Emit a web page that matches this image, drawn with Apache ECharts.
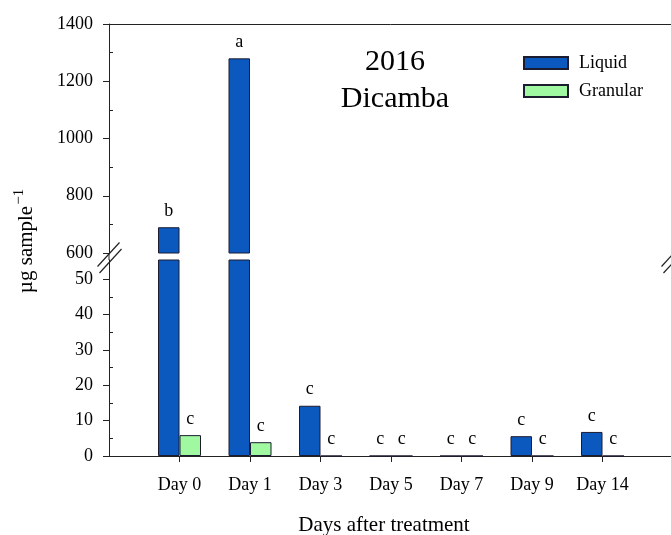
<!DOCTYPE html>
<html>
<head>
<meta charset="utf-8">
<script src="https://cdn.jsdelivr.net/npm/echarts@6/dist/echarts.min.js"></script>
<style>
  html, body { margin: 0; padding: 0; background: #fff; }
  #chart { width: 671px; height: 535px; }
</style>
</head>
<body>
<div id="chart"></div>
<script>
// Dicamba residue per sample, 2016, by days after treatment
const days = ['Day 0', 'Day 1', 'Day 3', 'Day 5', 'Day 7', 'Day 9', 'Day 14'];
const liquid = [690, 1280, 14.2, 0, 0, 5.6, 6.8];
const granular = [5.9, 3.9, 0, 0, 0, 0, 0];
const liquidLetters = ['b', 'a', 'c', 'c', 'c', 'c', 'c'];
const granularLetters = ['c', 'c', 'c', 'c', 'c', 'c', 'c'];
const upperTicks = [600, 800, 1000, 1200, 1400];
const upperMinorTicks = [700, 900, 1100, 1300];
const lowerTicks = [0, 10, 20, 30, 40, 50];
const lowerMinorTicks = [5, 15, 25, 35, 45];

// broken value axis: lower panel 0..~55, upper panel 600..1400
const UPPER_MIN = 600, UPPER_MAX = 1400;
const LOWER_MAX = 55.4;

const FONT = "'Liberation Serif', 'Times New Roman', serif";
const AXIS_COLOR = '#222';
const LIQUID_COLOR = '#0b59bf';
const GRANULAR_COLOR = '#a0f8a0';
const BORDER = '#1c1c30';

const chart = echarts.init(document.getElementById('chart'), null, { renderer: 'canvas' });

const pairs = arr => arr.map((v, i) => [i, v]);
const dayIdx = days.map((d, i) => i);

function letterLabel(letters, inUpper) {
  return {
    show: true,
    position: 'top',
    distance: 7,
    fontFamily: FONT,
    fontSize: 18,
    color: '#000',
    formatter: p => {
      const v = p.value[1];
      const fits = inUpper ? v >= UPPER_MIN : v <= LOWER_MAX;
      return fits ? letters[p.dataIndex] : '';
    }
  };
}

function barSeries(name, values, letters, color, gridIdx) {
  const upper = gridIdx === 0;
  return {
    type: 'bar',
    name: name,
    xAxisIndex: upper ? 0 : 1,
    yAxisIndex: upper ? 0 : 2,
    data: pairs(values),
    barWidth: 21.5,
    barGap: '0%',
    clip: true,
    itemStyle: { color: color, borderColor: BORDER, borderWidth: 1 },
    label: letterLabel(letters, upper),
    emphasis: { disabled: true }
  };
}

const lineStyle = { color: AXIS_COLOR, width: 1 };
const plain = v => String(v);

function yAxisMain(gridIndex, min, max, ticks) {
  return {
    gridIndex: gridIndex, type: 'value', min: min, max: max, position: 'left',
    axisLine: { show: true, onZero: false, lineStyle: lineStyle },
    axisTick: { show: true, length: 6, customValues: ticks, lineStyle: lineStyle },
    axisLabel: { customValues: ticks, margin: 16, fontFamily: FONT, fontSize: 18, color: '#000', formatter: plain },
    splitLine: { show: false }
  };
}

function yAxisMinor(gridIndex, min, max, ticks) {
  return {
    gridIndex: gridIndex, type: 'value', min: min, max: max, position: 'left',
    axisLine: { show: false, onZero: false },
    axisTick: { show: true, inside: true, length: 4, customValues: ticks, lineStyle: lineStyle },
    axisLabel: { show: false }, splitLine: { show: false }
  };
}

const option = {
  animation: false,
  backgroundColor: '#fff',
  grid: [
    { left: 109, right: -2, top: 24, height: 229, outerBoundsMode: 'none' },
    { left: 109, right: -2, top: 260, height: 196, outerBoundsMode: 'none' }
  ],
  xAxis: [
    {
      gridIndex: 0, type: 'value', min: -1, max: 7, interval: 1, position: 'top',
      axisLine: { show: true, onZero: false, lineStyle: lineStyle },
      axisTick: { show: false }, axisLabel: { show: false }, splitLine: { show: false }
    },
    {
      gridIndex: 1, type: 'value', min: -1, max: 7, interval: 1, position: 'bottom',
      axisLine: { show: true, onZero: false, lineStyle: lineStyle },
      axisTick: { show: true, length: 6, customValues: dayIdx, lineStyle: lineStyle },
      axisLabel: {
        show: true, customValues: dayIdx, margin: 20,
        fontFamily: FONT, fontSize: 18, color: '#000',
        formatter: v => days[v] || ''
      },
      splitLine: { show: false }
    }
  ],
  yAxis: [
    yAxisMain(0, UPPER_MIN, UPPER_MAX, upperTicks),
    yAxisMinor(0, UPPER_MIN, UPPER_MAX, upperMinorTicks),
    yAxisMain(1, 0, LOWER_MAX, lowerTicks),
    yAxisMinor(1, 0, LOWER_MAX, lowerMinorTicks)
  ],
  legend: {
    orient: 'vertical',
    left: 523,
    top: 54,
    padding: 0,
    icon: 'rect',
    itemWidth: 44,
    itemHeight: 12,
    itemGap: 10,
    data: ['Liquid', 'Granular'],
    textStyle: { fontFamily: FONT, fontSize: 18, color: '#000', padding: [0, 0, 0, 6] }
  },
  series: [
    barSeries('Liquid', liquid, liquidLetters, LIQUID_COLOR, 0),
    barSeries('Granular', granular, granularLetters, GRANULAR_COLOR, 0),
    barSeries('Liquid', liquid, liquidLetters, LIQUID_COLOR, 1),
    barSeries('Granular', granular, granularLetters, GRANULAR_COLOR, 1)
  ],
  graphic: [
    // axis line across the break, and the break marks on both sides
    { type: 'line', shape: { x1: 109, y1: 253, x2: 109, y2: 260 }, style: { stroke: AXIS_COLOR, lineWidth: 1 } },
    { type: 'line', shape: { x1: 97.5, y1: 266.5, x2: 119.5, y2: 242.5 }, style: { stroke: AXIS_COLOR, lineWidth: 1.2 } },
    { type: 'line', shape: { x1: 99.5, y1: 273, x2: 121.5, y2: 249 }, style: { stroke: AXIS_COLOR, lineWidth: 1.2 } },
    { type: 'line', shape: { x1: 661.5, y1: 266.5, x2: 683.5, y2: 242.5 }, style: { stroke: AXIS_COLOR, lineWidth: 1.2 } },
    { type: 'line', shape: { x1: 663.5, y1: 273, x2: 685.5, y2: 249 }, style: { stroke: AXIS_COLOR, lineWidth: 1.2 } },
    // panel title
    { type: 'text', x: 395, y: 62, style: { text: '2016', fontFamily: FONT, fontSize: 30, fill: '#000', align: 'center', verticalAlign: 'middle' } },
    { type: 'text', x: 395, y: 99, style: { text: 'Dicamba', fontFamily: FONT, fontSize: 30, fill: '#000', align: 'center', verticalAlign: 'middle' } },
    // axis titles
    { type: 'text', x: 384, y: 525, style: { text: 'Days after treatment', fontFamily: FONT, fontSize: 21, fill: '#000', align: 'center', verticalAlign: 'middle' } },
    {
      type: 'text', x: 26, y: 241, rotation: Math.PI / 2,
      style: {
        text: '{m|µg sample}{s|−1}',
        align: 'center', verticalAlign: 'middle',
        rich: {
          m: { fontFamily: FONT, fontSize: 21, fill: '#000', color: '#000' },
          s: { fontFamily: FONT, fontSize: 15, fill: '#000', color: '#000', padding: [0, 0, 13, 1] }
        }
      }
    }
  ]
};

chart.setOption(option);
</script>
</body>
</html>
